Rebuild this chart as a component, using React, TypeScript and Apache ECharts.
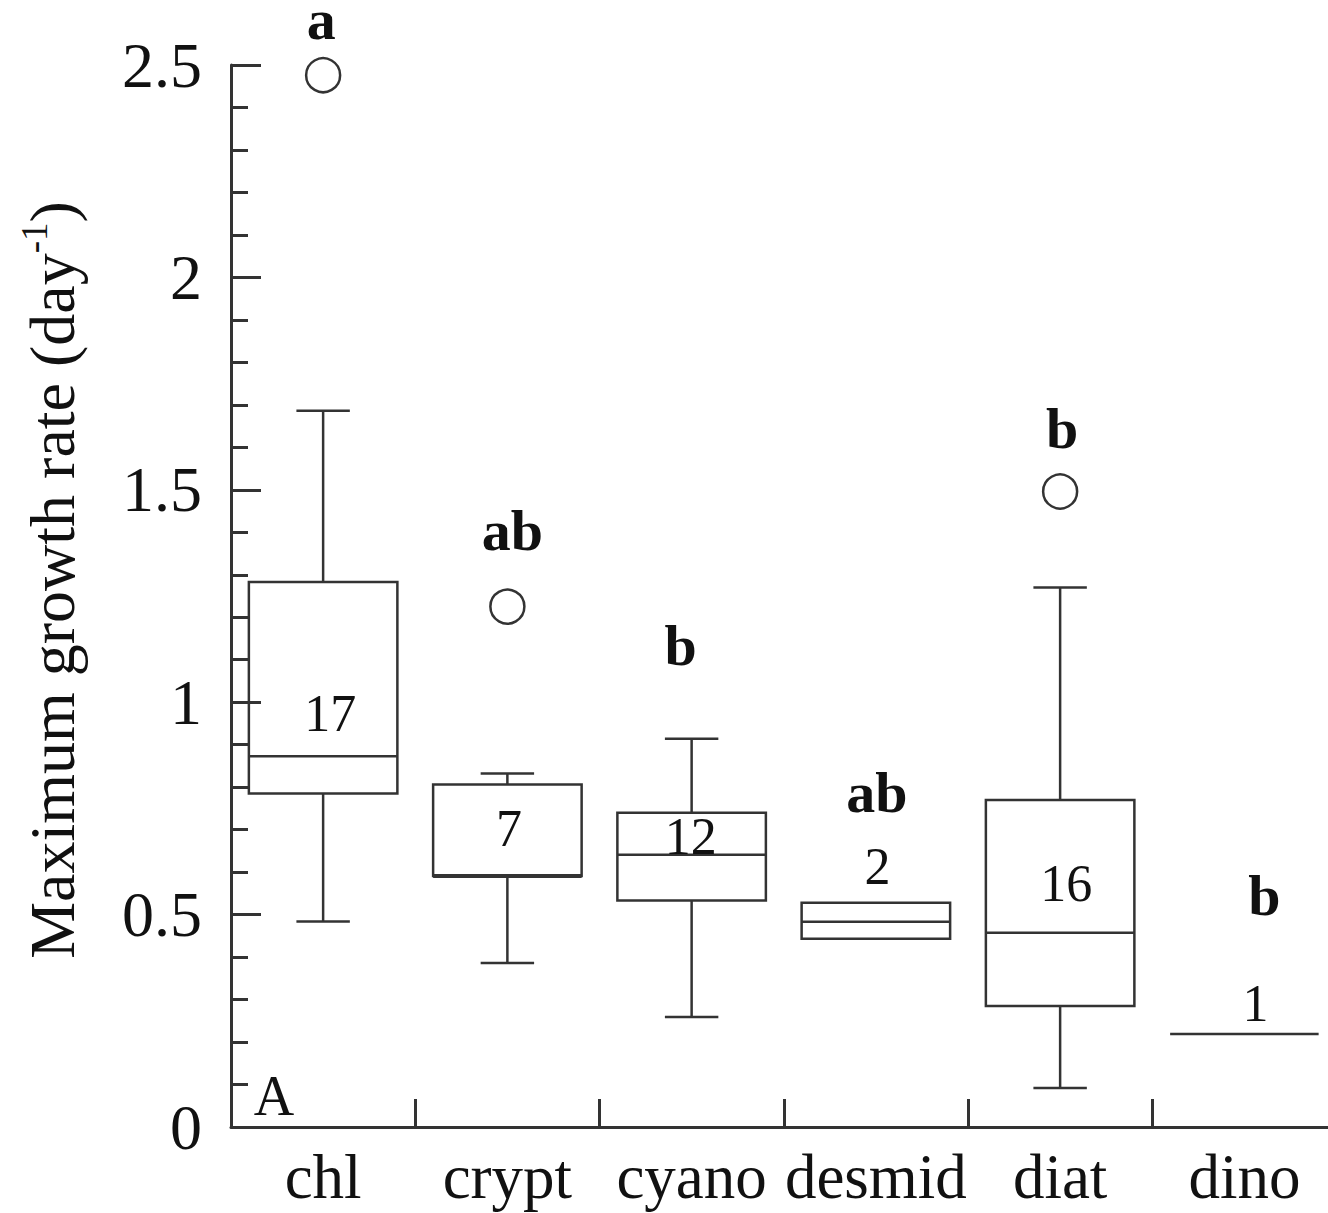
import React, { useEffect, useRef } from "react";
import * as echarts from "echarts";

// Phytoplankton groups on the x axis
const categories = ["chl", "crypt", "cyano", "desmid", "diat", "dino"];

// Box-plot statistics per group (day^-1)
const whiskerLow = [0.484, 0.386, 0.259, 0.443, 0.092, 0.219];
const quartile1 = [0.785, 0.591, 0.533, 0.443, 0.285, 0.219];
const medians = [0.873, 0.591, 0.641, 0.483, 0.457, 0.219];
const quartile3 = [1.283, 0.806, 0.74, 0.528, 0.77, 0.219];
const whiskerHigh = [1.686, 0.832, 0.914, 0.528, 1.27, 0.219];

// Outlying observations: [group index, value]
const outliers: [number, number][] = [
  [0, 2.476],
  [1, 1.225],
  [4, 1.496],
];

// Number of species per group and significance letters
const sampleSizes = ["17", "7", "12", "2", "16", "1"];
const groupLetters = ["a", "ab", "b", "ab", "b", "b"];

// Label anchors: [horizontal pixel nudge, height on the value axis]
const countAnchors: [number, number][] = [
  [7, 0.974],
  [1.5, 0.703],
  [-1, 0.684],
  [1.5, 0.613],
  [6, 0.574],
  [11, 0.291],
];
const letterAnchors: [number, number][] = [
  [-2, 2.606],
  [5, 1.405],
  [-11, 1.134],
  [1, 0.788],
  [2, 1.645],
  [20, 0.545],
];

const INK = "#333";
const TEXT = "#111";
const SERIF = "'Liberation Serif', 'Times New Roman', serif";

export default function App() {
  const ref = useRef<HTMLDivElement>(null);

  useEffect(() => {
    if (!ref.current) return;
    const chart = echarts.init(ref.current, undefined, { renderer: "svg" });

    const boxData = categories.map((_, i) => [
      i,
      whiskerLow[i],
      quartile1[i],
      medians[i],
      quartile3[i],
      whiskerHigh[i],
    ]);

    const renderBox = (params: any, api: any) => {
      const i = api.value(0);
      const lo = api.value(1);
      const q1 = api.value(2);
      const md = api.value(3);
      const q3 = api.value(4);
      const hi = api.value(5);
      const band = api.size([1, 0])[0];
      const boxW = band * 0.806;
      const capW = band * 0.29;
      const cx = api.coord([i, md])[0];
      const yLo = api.coord([i, lo])[1];
      const yQ1 = api.coord([i, q1])[1];
      const yMd = api.coord([i, md])[1];
      const yQ3 = api.coord([i, q3])[1];
      const yHi = api.coord([i, hi])[1];
      const stroke = { stroke: INK, lineWidth: 2.5, fill: "none" };
      const children: any[] = [];
      if (hi > q3) {
        children.push({ type: "line", shape: { x1: cx, y1: yQ3, x2: cx, y2: yHi }, style: stroke });
        children.push({ type: "line", shape: { x1: cx - capW / 2, y1: yHi, x2: cx + capW / 2, y2: yHi }, style: stroke });
      }
      if (lo < q1) {
        children.push({ type: "line", shape: { x1: cx, y1: yQ1, x2: cx, y2: yLo }, style: stroke });
        children.push({ type: "line", shape: { x1: cx - capW / 2, y1: yLo, x2: cx + capW / 2, y2: yLo }, style: stroke });
      }
      if (q3 > q1) {
        children.push({
          type: "rect",
          shape: { x: cx - boxW / 2, y: yQ3, width: boxW, height: yQ1 - yQ3 },
          style: stroke,
        });
      }
      children.push({
        type: "line",
        shape: { x1: cx - boxW / 2, y1: yMd, x2: cx + boxW / 2, y2: yMd },
        style: { ...stroke, lineWidth: md === q1 && q3 > q1 ? 4 : 2.5 },
      });

      const [cdx, cv] = countAnchors[i];
      const [ldx, lv] = letterAnchors[i];
      children.push({
        type: "text",
        x: cx + cdx,
        y: api.coord([i, cv])[1],
        style: {
          text: sampleSizes[i],
          fill: TEXT,
          fontSize: 52,
          fontFamily: SERIF,
          align: "center",
          verticalAlign: "middle",
        },
      });
      children.push({
        type: "text",
        x: cx + ldx,
        y: api.coord([i, lv])[1],
        style: {
          text: groupLetters[i],
          fill: TEXT,
          fontSize: 58,
          lineHeight: 40,
          fontWeight: "bold",
          fontFamily: SERIF,
          align: "center",
          verticalAlign: "middle",
        },
      });
      return { type: "group", children };
    };

    chart.setOption({
      animation: false,
      backgroundColor: "#fff",
      grid: { left: 231, top: 65, width: 1105.5, height: 1062, outerBoundsMode: "none", containLabel: false },
      xAxis: {
        type: "category",
        data: categories,
        boundaryGap: true,
        axisLine: { lineStyle: { color: INK, width: 3 } },
        axisTick: { show: true, interval: 0, inside: true, length: 28, lineStyle: { color: INK, width: 3 } },
        axisLabel: { interval: 0, fontSize: 63, fontFamily: SERIF, color: TEXT, margin: 18 },
        splitLine: { show: false },
      },
      yAxis: {
        type: "value",
        min: 0,
        max: 2.5,
        interval: 0.5,
        axisLine: { show: true, lineStyle: { color: INK, width: 3 } },
        axisTick: { show: true, inside: true, length: 30, lineStyle: { color: INK, width: 3 } },
        minorTick: { show: true, splitNumber: 5, length: 17, lineStyle: { color: INK, width: 3 } },
        splitLine: { show: false },
        minorSplitLine: { show: false },
        axisLabel: { fontSize: 64, fontFamily: SERIF, color: TEXT, margin: 29 },
      },
      graphic: [
        {
          type: "text",
          x: 52,
          y: 580,
          rotation: Math.PI / 2,
          style: {
            text: "Maximum growth rate (day{sup|-1})",
            fill: TEXT,
            fontSize: 64,
            fontFamily: SERIF,
            align: "center",
            verticalAlign: "middle",
            lineHeight: 72,
            rich: {
              sup: { fontSize: 37, fontFamily: SERIF, lineHeight: 37, verticalAlign: "top", fill: TEXT },
            },
          },
        },
        {
          type: "text",
          x: 274,
          y: 1096,
          style: {
            text: "A",
            fill: TEXT,
            fontSize: 56,
            fontFamily: SERIF,
            align: "center",
            verticalAlign: "middle",
          },
        },
      ],
      series: [
        {
          type: "custom",
          data: boxData,
          encode: { x: 0, y: [1, 2, 3, 4, 5] },
          renderItem: renderBox,
          z: 2,
        },
        {
          type: "scatter",
          data: outliers,
          symbol: "circle",
          symbolSize: 34,
          itemStyle: { color: "#fff", borderColor: INK, borderWidth: 2.5, opacity: 1 },
          z: 3,
        },
      ],
    });

    return () => chart.dispose();
  }, []);

  return (
    <div
      ref={ref}
      style={{ position: "absolute", left: 0, top: 0, width: 1328, height: 1213 }}
    />
  );
}
